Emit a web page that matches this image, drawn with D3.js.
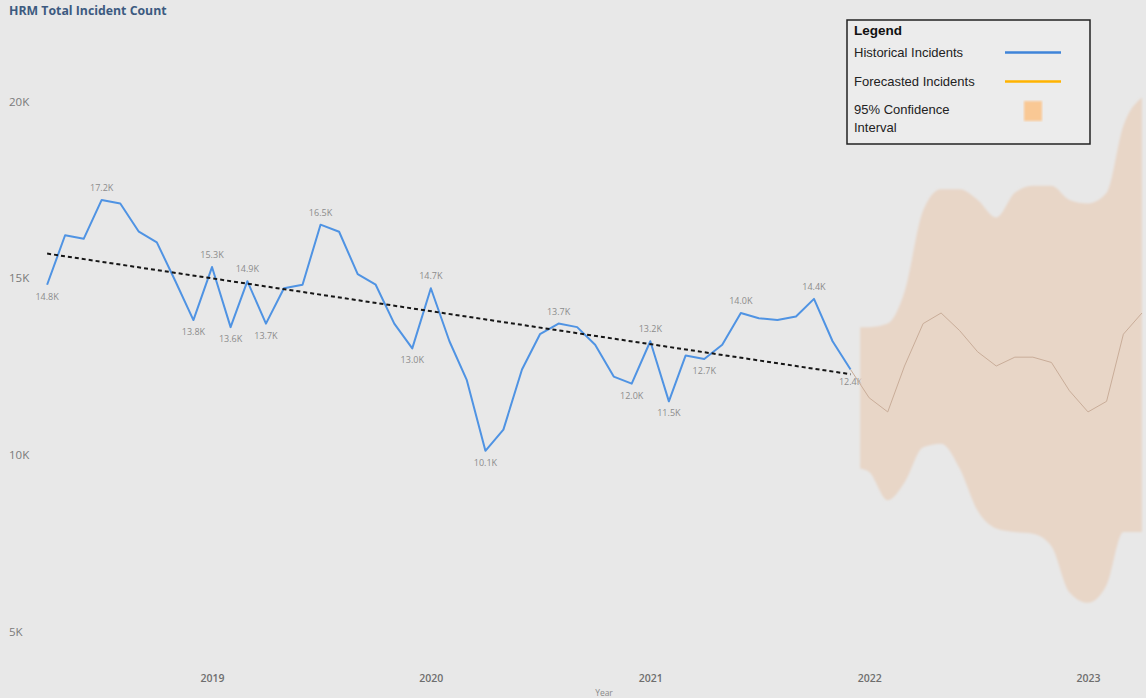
<!DOCTYPE html>
<html>
<head>
<meta charset="utf-8">
<script src="https://cdn.jsdelivr.net/npm/d3@7"></script>
<style>
  html, body { margin: 0; padding: 0; background: #e8e8e8; }
  svg { display: block; }
</style>
</head>
<body>
<svg id="chart" width="1146" height="698"></svg>
<script>
// Monthly incident counts (thousands)
const histMonths = [
  "2018-04","2018-05","2018-06","2018-07","2018-08","2018-09","2018-10","2018-11","2018-12",
  "2019-01","2019-02","2019-03","2019-04","2019-05","2019-06","2019-07","2019-08","2019-09","2019-10","2019-11","2019-12",
  "2020-01","2020-02","2020-03","2020-04","2020-05","2020-06","2020-07","2020-08","2020-09","2020-10","2020-11","2020-12",
  "2021-01","2021-02","2021-03","2021-04","2021-05","2021-06","2021-07","2021-08","2021-09","2021-10","2021-11","2021-12"
];
const histValues = [
  14.8, 16.2, 16.1, 17.2, 17.1, 16.3, 16.0, 14.9, 13.8,
  15.3, 13.6, 14.9, 13.7, 14.7, 14.8, 16.5, 16.3, 15.1, 14.8, 13.7, 13.0,
  14.7, 13.2, 12.1, 10.1, 10.7, 12.4, 13.4, 13.7, 13.6, 13.1, 12.2, 12.0,
  13.2, 11.5, 12.8, 12.7, 13.1, 14.0, 13.85, 13.8, 13.9, 14.4, 13.2, 12.4
];
// Months that carry a data label
const labeledMonths = [
  "2018-04","2018-07","2018-12","2019-01","2019-02","2019-03","2019-04","2019-07",
  "2019-12","2020-01","2020-04","2020-08","2020-12","2021-01","2021-02","2021-04",
  "2021-06","2021-10","2021-12"
];

// Forecast
const forecastMonths = [
  "2021-12","2022-01","2022-02","2022-03","2022-04","2022-05","2022-06","2022-07","2022-08",
  "2022-09","2022-10","2022-11","2022-12","2023-01","2023-02","2023-03","2023-04"
];
const forecastValues = [12.4, 11.6, 11.2, 12.5, 13.7, 14.0, 13.5, 12.9, 12.5, 12.75, 12.75, 12.6, 11.8, 11.2, 11.5, 13.4, 14.0];

// 95% confidence interval
const bandDates = [
  "2021-12-17","2022-01-01","2022-02-01","2022-03-01","2022-04-01","2022-05-01","2022-06-01","2022-07-01","2022-08-01",
  "2022-09-01","2022-10-01","2022-11-01","2022-12-01","2023-01-01","2023-02-01","2023-03-01","2023-04-01"
];
const bandUpper = [13.6, 13.6, 13.7, 14.6, 16.9, 17.5, 17.5, 17.2, 16.7, 17.4, 17.6, 17.6, 17.2, 17.1, 17.4, 19.3, 20.1];
const bandLower = [9.6, 9.5, 8.7, 9.2, 10.2, 10.3, 9.6, 8.4, 7.9, 7.8, 7.75, 7.4, 6.1, 5.8, 6.3, 7.8, 7.8];

// Axis ticks
const yTicks = [5, 10, 15, 20];
const xTickYears = ["2019", "2020", "2021", "2022", "2023"];

const parseMonth = d3.timeParse("%Y-%m");
const parseDay = d3.timeParse("%Y-%m-%d");
const parseYear = d3.timeParse("%Y");

const hist = histMonths.map((m, i) => ({ date: parseMonth(m), key: m, value: histValues[i], i }));
const forecast = forecastMonths.map((m, i) => ({ date: parseMonth(m), value: forecastValues[i] }));
const band = bandDates.map((d, i) => ({ date: parseDay(d), hi: bandUpper[i], lo: bandLower[i] }));

const svg = d3.select("#chart");
const W = 1146, H = 698;

svg.append("rect").attr("width", W).attr("height", H).attr("fill", "#e8e8e8");

const x = d3.scaleTime()
  .domain([parseYear("2019"), parseYear("2023")])
  .range([212, 1088]);
const y = d3.scaleLinear().domain([5, 20]).range([631, 101]);

const fontUI = "'Open Sans', 'Noto Sans', sans-serif";

// Title
svg.append("text")
  .attr("x", 9).attr("y", 15)
  .attr("font-family", fontUI)
  .attr("font-size", 12.3).attr("font-weight", 700)
  .attr("fill", "#3c5a80")
  .text("HRM Total Incident Count");

// Y axis labels
const yAxis = d3.axisLeft(y).tickValues(yTicks).tickSize(0).tickFormat(d => d + "K");
const gy = svg.append("g").attr("transform", "translate(9,0)").call(yAxis);
gy.select(".domain").remove();
gy.selectAll("text")
  .attr("text-anchor", "start").attr("x", 0).attr("dy", "0.35em")
  .attr("font-family", fontUI).attr("font-size", 11.5).attr("fill", "#7a7a7a");

// X axis labels
const xAxis = d3.axisBottom(x).tickValues(xTickYears.map(parseYear)).tickSize(0).tickFormat(d3.timeFormat("%Y"));
const gx = svg.append("g").attr("transform", "translate(0,672)").call(xAxis);
gx.select(".domain").remove();
gx.selectAll("text")
  .attr("dy", "0.35em").attr("y", 6)
  .attr("font-family", fontUI).attr("font-size", 10.5).attr("font-weight", 600).attr("fill", "#6e6e6e");

svg.append("text")
  .attr("x", 604).attr("y", 696).attr("text-anchor", "middle")
  .attr("font-family", fontUI).attr("font-size", 8.5).attr("fill", "#8a8a8a")
  .text("Year");

// Historical line
const line = d3.line().x(d => x(d.date)).y(d => y(d.value));
svg.append("path")
  .datum(hist)
  .attr("fill", "none")
  .attr("stroke", "#4f93e3")
  .attr("stroke-width", 2)
  .attr("stroke-linejoin", "round")
  .attr("d", line);

// Linear trend (least squares over month index)
const n = hist.length;
const meanI = d3.mean(hist, d => d.i);
const meanV = d3.mean(hist, d => d.value);
const slope = d3.sum(hist, d => (d.i - meanI) * (d.value - meanV)) / d3.sum(hist, d => (d.i - meanI) ** 2);
const intercept = meanV - slope * meanI;
const trend = [hist[0], hist[n - 1]].map(d => ({ date: d.date, value: intercept + slope * d.i }));
svg.append("path")
  .datum(trend)
  .attr("fill", "none")
  .attr("stroke", "#151515")
  .attr("stroke-width", 2)
  .attr("stroke-dasharray", "4,3")
  .attr("d", line);

// Data labels: peaks above, troughs below
const fmt = d3.format(".1f");
const labelSet = new Set(labeledMonths);
svg.append("g").selectAll("text")
  .data(hist.filter(d => labelSet.has(d.key)))
  .join("text")
  .attr("x", d => x(d.date))
  .attr("y", d => {
    const prev = hist[d.i - 1], next = hist[d.i + 1];
    const nb = [prev, next].filter(Boolean).map(p => p.value);
    const isPeak = nb.every(v => v <= d.value);
    return isPeak ? y(d.value) - 9 : y(d.value) + 15;
  })
  .attr("text-anchor", "middle")
  .attr("font-family", fontUI).attr("font-size", 9)
  .attr("fill", "#8c8c8c")
  .text(d => fmt(d.value) + "K");

// Confidence band
const defs = svg.append("defs");
defs.append("filter").attr("id", "soft")
  .attr("x", "-5%").attr("y", "-5%").attr("width", "110%").attr("height", "110%")
  .append("feGaussianBlur").attr("stdDeviation", 1.3);

const area = d3.area()
  .x(d => x(d.date))
  .y0(d => y(d.lo))
  .y1(d => y(d.hi))
  .curve(d3.curveMonotoneX);
svg.append("path")
  .datum(band)
  .attr("fill", "#e8d6c7")
  .attr("filter", "url(#soft)")
  .attr("d", area);

// Forecast line
svg.append("path")
  .datum(forecast)
  .attr("fill", "none")
  .attr("stroke", "#c9ad99")
  .attr("stroke-width", 1)
  .attr("d", line);

// Legend
const lg = svg.append("g").attr("transform", "translate(847,20)");
lg.append("rect")
  .attr("width", 243).attr("height", 124)
  .attr("fill", "#ececec")
  .attr("stroke", "#222").attr("stroke-width", 1.5);
const legendFont = "'Liberation Sans', Arial, sans-serif";
lg.append("text").attr("x", 7).attr("y", 15)
  .attr("font-family", legendFont).attr("font-size", 13.5).attr("font-weight", 700).attr("fill", "#111")
  .text("Legend");
const legendItems = [
  { label: ["Historical Incidents"], y: 37, kind: "line", color: "#3f84d9" },
  { label: ["Forecasted Incidents"], y: 66, kind: "line", color: "#ffb300" },
  { label: ["95% Confidence", "Interval"], y: 94, kind: "box", color: "#f9c894" }
];
legendItems.forEach(it => {
  const t = lg.append("text").attr("x", 7).attr("y", it.y)
    .attr("font-family", legendFont).attr("font-size", 13).attr("fill", "#222");
  it.label.forEach((s, k) => t.append("tspan").attr("x", 7).attr("dy", k ? 17.5 : 0).text(s));
  if (it.kind === "line") {
    lg.append("line").attr("x1", 158).attr("x2", 214).attr("y1", it.y - 4.5).attr("y2", it.y - 4.5)
      .attr("stroke", it.color).attr("stroke-width", 2.6);
  } else {
    lg.append("rect").attr("x", 177).attr("y", it.y - 13).attr("width", 18).attr("height", 20)
      .attr("fill", it.color).attr("filter", "url(#soft)");
  }
});
</script>
</body>
</html>
